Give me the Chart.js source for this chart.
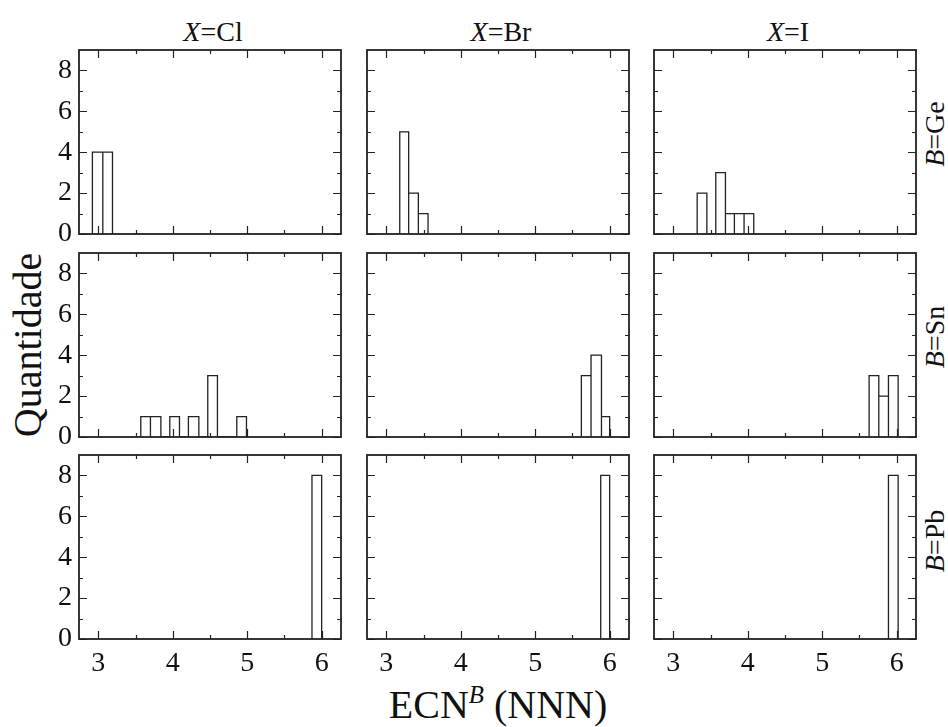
<!DOCTYPE html>
<html>
<head>
<meta charset="utf-8">
<script src="https://cdn.jsdelivr.net/npm/chart.js@4.4.0/dist/chart.umd.min.js"></script>
<style>
  body { margin: 0; background: #fff; }
  #fig {
    position: relative;
    width: 948px;
    height: 727px;
    font-family: "Liberation Serif", "Times New Roman", Tinos, serif;
    color: #111;
  }
  #fig canvas { position: absolute; }
  .lbl {
    position: absolute;
    white-space: nowrap;
    line-height: 1;
    transform: translate(-50%, -50%);
  }
  .small { font-size: 28px; }
  .big { font-size: 40px; }
  .rot { transform: translate(-50%, -50%) rotate(-90deg); }
  sup { font-size: 0.62em; font-style: italic; vertical-align: 0.62em; }
</style>
</head>
<body>
<div id="fig">
  <div class="lbl small" style="left:213px; top:32px"><i>X</i>=Cl</div>
  <div class="lbl small" style="left:501px; top:32px"><i>X</i>=Br</div>
  <div class="lbl small" style="left:788px; top:32px"><i>X</i>=I</div>

  <div class="lbl small rot" style="left:935px; top:134px"><i>B</i>=Ge</div>
  <div class="lbl small rot" style="left:935px; top:337px"><i>B</i>=Sn</div>
  <div class="lbl small rot" style="left:935px; top:541px"><i>B</i>=Pb</div>

  <div class="lbl big rot" style="left:28px; top:345px">Quantidade</div>
  <div class="lbl big" style="left:498px; top:704px">ECN<sup>B</sup> (NNN)</div>
</div>

<script>
// tick values
const xTicks = [3, 3.5, 4, 4.5, 5, 5.5, 6];
const yTicks = [0, 1, 2, 3, 4, 5, 6, 7, 8];

// histogram bin edges (ECN) and counts, one pair per panel
const geClEdges = [2.92, 3.06, 3.19];
const geClCounts = [4, 4];
const geBrEdges = [3.18, 3.30, 3.43, 3.56];
const geBrCounts = [5, 2, 1];
const geIEdges = [3.32, 3.45, 3.57, 3.70, 3.82, 3.95, 4.08];
const geICounts = [2, 0, 3, 1, 1, 1];

const snClEdges = [3.57, 3.70, 3.84, 3.96, 4.09, 4.21, 4.35, 4.47, 4.60, 4.73, 4.86, 4.99];
const snClCounts = [1, 1, 0, 1, 0, 1, 0, 3, 0, 0, 1];
const snBrEdges = [5.62, 5.75, 5.89, 6.00];
const snBrCounts = [3, 4, 1];
const snIEdges = [5.63, 5.76, 5.89, 6.02];
const snICounts = [3, 2, 3];

const pbClEdges = [5.87, 6.00];
const pbClCounts = [8];
const pbBrEdges = [5.88, 6.00];
const pbBrCounts = [8];
const pbIEdges = [5.89, 6.02];
const pbICounts = [8];

const panels = [
  [[geClEdges, geClCounts], [geBrEdges, geBrCounts], [geIEdges, geICounts]],
  [[snClEdges, snClCounts], [snBrEdges, snBrCounts], [snIEdges, snICounts]],
  [[pbClEdges, pbClCounts], [pbBrEdges, pbBrCounts], [pbIEdges, pbICounts]]
];

// frame placement on the page
const colLeft = [79, 367, 654];
const rowTop = [50, 253, 455];
const frameW = 262;
const frameH = 184;
const yAxisW = 60;
const xAxisH = 45;
const pad = 4;

const lineColor = "#222";
const tickFont = { family: "'Liberation Serif', 'Times New Roman', Tinos, serif", size: 28 };

// outline of a histogram: each bin drawn as an open box from the baseline
function outline(edges, counts) {
  const pts = [];
  counts.forEach((c, i) => {
    pts.push({ x: edges[i], y: 0 });
    pts.push({ x: edges[i], y: c });
    pts.push({ x: edges[i + 1], y: c });
    pts.push({ x: edges[i + 1], y: 0 });
  });
  return pts;
}

// box around the plot area with inward ticks on all four sides
const frame = {
  id: "frame",
  afterDatasetsDraw(chart) {
    const { ctx, chartArea: a, scales: { x, y } } = chart;
    ctx.save();
    ctx.strokeStyle = lineColor;
    ctx.lineWidth = 1.2;
    ctx.beginPath();
    x.ticks.forEach(t => {
      const px = Math.round(x.getPixelForValue(t.value)) + 0.5;
      const len = Number.isInteger(t.value) ? 8 : 4;
      ctx.moveTo(px, a.bottom); ctx.lineTo(px, a.bottom - len);
      ctx.moveTo(px, a.top); ctx.lineTo(px, a.top + len);
    });
    y.ticks.forEach(t => {
      const py = Math.round(y.getPixelForValue(t.value)) + 0.5;
      const len = t.value % 2 === 0 ? 8 : 4;
      ctx.moveTo(a.left, py); ctx.lineTo(a.left + len, py);
      ctx.moveTo(a.right, py); ctx.lineTo(a.right - len, py);
    });
    ctx.stroke();
    ctx.lineWidth = 1.8;
    ctx.strokeRect(a.left, a.top, a.right - a.left, a.bottom - a.top);
    ctx.restore();
  }
};

const fig = document.getElementById("fig");

panels.forEach((row, r) => {
  row.forEach(([edges, counts], c) => {
    const canvas = document.createElement("canvas");
    canvas.width = yAxisW + frameW + pad;
    canvas.height = pad + frameH + xAxisH;
    canvas.style.left = (colLeft[c] - yAxisW) + "px";
    canvas.style.top = (rowTop[r] - pad) + "px";
    fig.appendChild(canvas);

    new Chart(canvas, {
      type: "scatter",
      data: {
        datasets: [{
          data: outline(edges, counts),
          showLine: true,
          borderColor: lineColor,
          borderWidth: 1.3,
          pointRadius: 0,
          fill: false,
          tension: 0
        }]
      },
      options: {
        responsive: false,
        animation: false,
        devicePixelRatio: 1,
        layout: { padding: { top: pad, right: pad, left: 0, bottom: 0 } },
        plugins: { legend: { display: false }, tooltip: { enabled: false } },
        scales: {
          x: {
            type: "linear",
            min: 2.74,
            max: 6.26,
            afterBuildTicks: s => { s.ticks = xTicks.map(v => ({ value: v })); },
            afterFit: s => {
              s.height = xAxisH;
              s.paddingLeft = 0;
              s.paddingRight = 0;
            },
            grid: { display: false, drawTicks: false },
            border: { display: false },
            ticks: {
              display: r === 2,
              padding: 8,
              color: "#111",
              font: tickFont,
              maxRotation: 0,
              autoSkip: false,
              callback: v => Number.isInteger(v) ? String(v) : ""
            }
          },
          y: {
            type: "linear",
            min: 0,
            max: 9,
            afterBuildTicks: s => { s.ticks = yTicks.map(v => ({ value: v })); },
            afterFit: s => {
              s.width = yAxisW;
              s.paddingTop = 0;
              s.paddingBottom = 0;
            },
            grid: { display: false, drawTicks: false },
            border: { display: false },
            ticks: {
              display: c === 0,
              padding: 7,
              color: "#111",
              font: tickFont,
              autoSkip: false,
              callback: v => v % 2 === 0 ? String(v) : ""
            }
          }
        }
      },
      plugins: [frame]
    });
  });
});
</script>
</body>
</html>
